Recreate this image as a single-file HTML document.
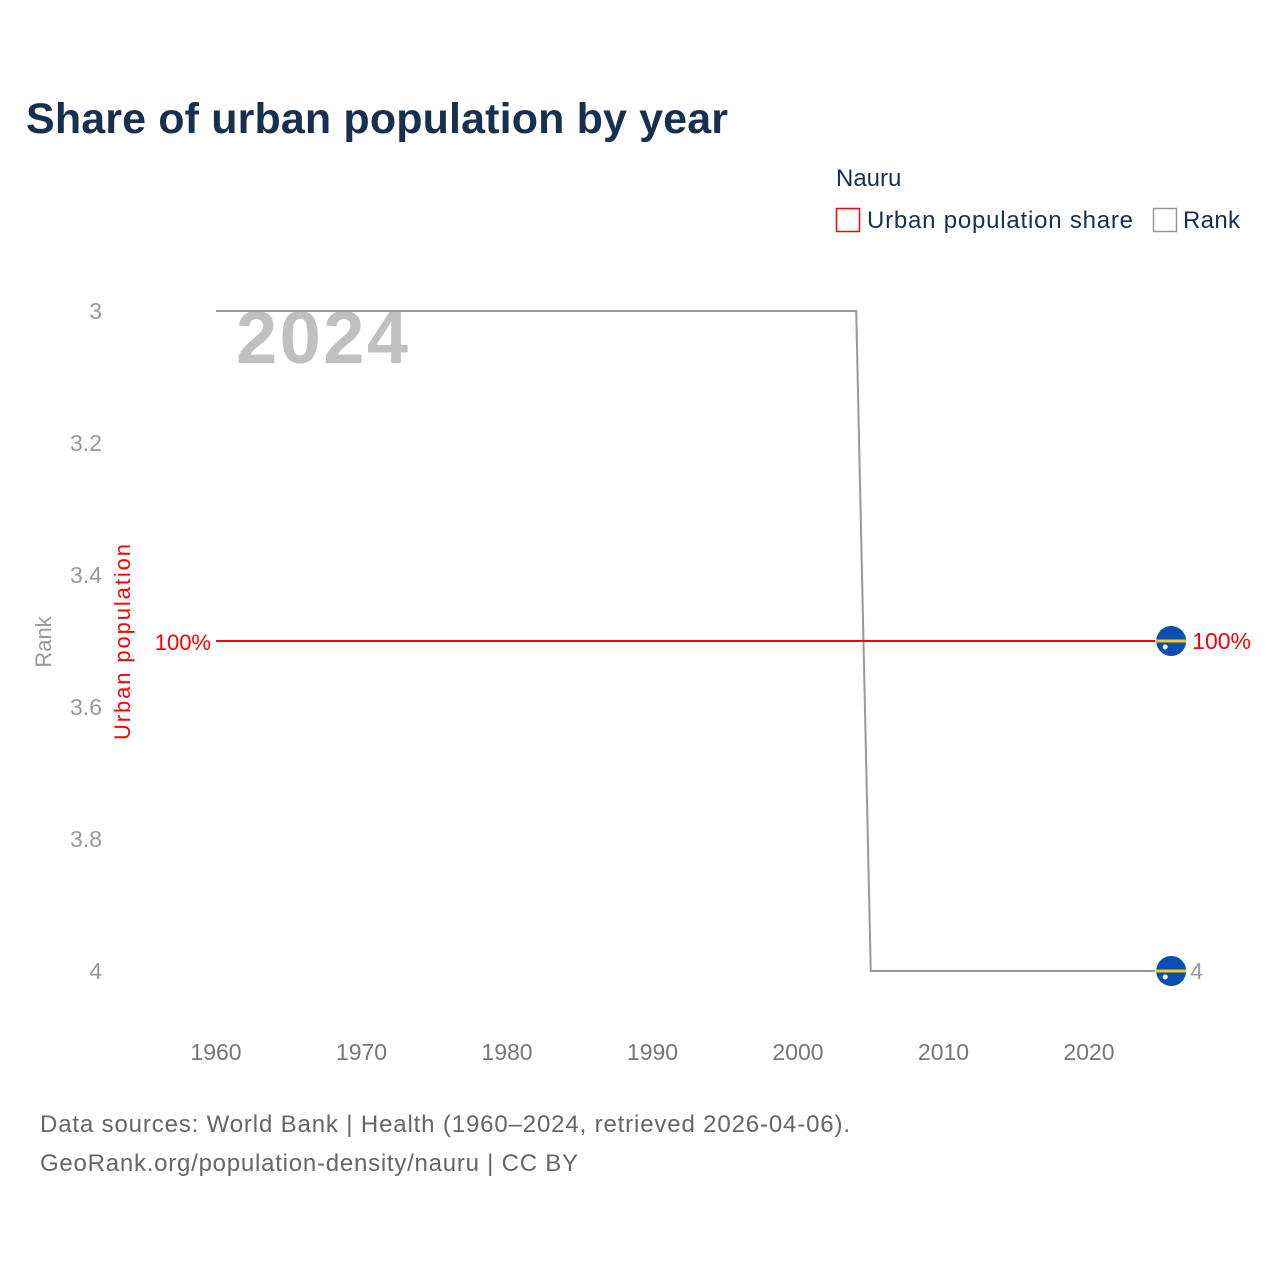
<!DOCTYPE html>
<html><head><meta charset="utf-8"><style>
html,body{margin:0;padding:0;background:#fff;width:1280px;height:1280px;overflow:hidden;font-family:"Liberation Sans",sans-serif}
</style></head><body>
<svg width="1280" height="1280" viewBox="0 0 1280 1280" xmlns="http://www.w3.org/2000/svg" font-family="Liberation Sans, sans-serif">
<text x="26" y="133" font-size="43" font-weight="bold" fill="#17304f" textLength="702">Share of urban population by year</text>
<text x="836" y="186" font-size="24" fill="#17304f">Nauru</text>
<g><rect x="836.5" y="208.5" width="23" height="23" fill="none" stroke="#ff0000" stroke-width="1.5"/><text x="867" y="228" font-size="24" fill="#17304f" textLength="266">Urban population share</text></g>
<g><rect x="1153.5" y="208.5" width="23" height="23" fill="none" stroke="#999" stroke-width="1.5"/><text x="1183" y="228" font-size="24" fill="#17304f" textLength="57">Rank</text></g>
<text x="236" y="363" font-size="74" font-weight="bold" fill="#c0c0c0" textLength="172">2024</text>
<g id="yticks"></g>
<g id="xticks"></g>
<text transform="translate(51,642) rotate(-90)" text-anchor="middle" font-size="22" fill="#999">Rank</text>
<text transform="translate(130,642) rotate(-90)" text-anchor="middle" font-size="22" fill="#ff0000" textLength="196">Urban population</text>
<text x="211" y="650" text-anchor="end" font-size="22" fill="#ff0000">100%</text>
<g id="series"></g>
<text x="40" y="1132" font-size="24" fill="#666" textLength="810">Data sources: World Bank | Health (1960–2024, retrieved 2026-04-06).</text>
<text x="40" y="1171" font-size="24" fill="#666" textLength="538">GeoRank.org/population-density/nauru | CC BY</text>
</svg>
<script>
const years = [];
for (let y = 1960; y <= 2024; y++) years.push(y);
const rankValues = years.map(y => y <= 2004 ? 3 : 4);
const urbanValues = years.map(() => 100);
const rankTicks = [3, 3.2, 3.4, 3.6, 3.8, 4];
const yearTicks = [1960, 1970, 1980, 1990, 2000, 2010, 2020];

const NS = "http://www.w3.org/2000/svg";
const xS = y => 216 + (y - 1960) * (873 / 60);
const yS = r => 311 + (r - 3) * 660;
const yU = v => 641 + (100 - v) * 3;
function mk(tag, attrs, parent, txt) {
  const e = document.createElementNS(NS, tag);
  for (const k in attrs) e.setAttribute(k, attrs[k]);
  if (txt !== undefined) e.textContent = txt;
  parent.appendChild(e); return e;
}
const yt = document.getElementById('yticks');
rankTicks.forEach(t => {
  const e = mk('text', {x: 102, y: yS(t) + 8, 'text-anchor': 'end', 'font-size': 23, fill: '#999'}, yt, String(t));
  
  
});
const xt = document.getElementById('xticks');
yearTicks.forEach(t => {
  const e = mk('text', {x: xS(t), y: 1060, 'text-anchor': 'middle', 'font-size': 23, fill: '#777'}, xt, String(t));
  
  
});
const s = document.getElementById('series');
const endX = xS(2024);
const rl = mk('polyline', {points: years.map((y, i) => xS(y) + ',' + yS(rankValues[i])).join(' ') + ' ' + (endX + 8) + ',' + yS(rankValues[rankValues.length - 1]), fill: 'none', stroke: '#999', 'stroke-width': 2}, s);


const ul = mk('polyline', {points: years.map((y, i) => xS(y) + ',' + yU(urbanValues[i])).join(' ') + ' ' + (endX + 8) + ',' + yU(urbanValues[urbanValues.length - 1]), fill: 'none', stroke: '#ff0000', 'stroke-width': 2}, s);


function flag(cy, name) {
  const g = mk('g', {}, s);
  
  
  const cx = endX + 24;
  mk('circle', {cx, cy, r: 15, fill: '#0a4fb0'}, g);
  mk('rect', {x: cx - 15, y: cy - 1.5, width: 30, height: 3, fill: '#ffc61e'}, g);
  mk('circle', {cx: cx - 6, cy: cy + 6, r: 2.5, fill: '#fff'}, g);
}
flag(yU(urbanValues[urbanValues.length - 1]), 'urban-end-marker');
flag(yS(rankValues[rankValues.length - 1]), 'rank-end-marker');
const ua = mk('text', {x: endX + 45, y: yU(urbanValues[urbanValues.length - 1]) + 8, 'font-size': 23, fill: '#ff0000'}, s, urbanValues[urbanValues.length - 1] + '%');


const ra = mk('text', {x: endX + 43, y: yS(rankValues[rankValues.length - 1]) + 8, 'font-size': 23, fill: '#999'}, s, String(rankValues[rankValues.length - 1]));


</script>
</body></html>
